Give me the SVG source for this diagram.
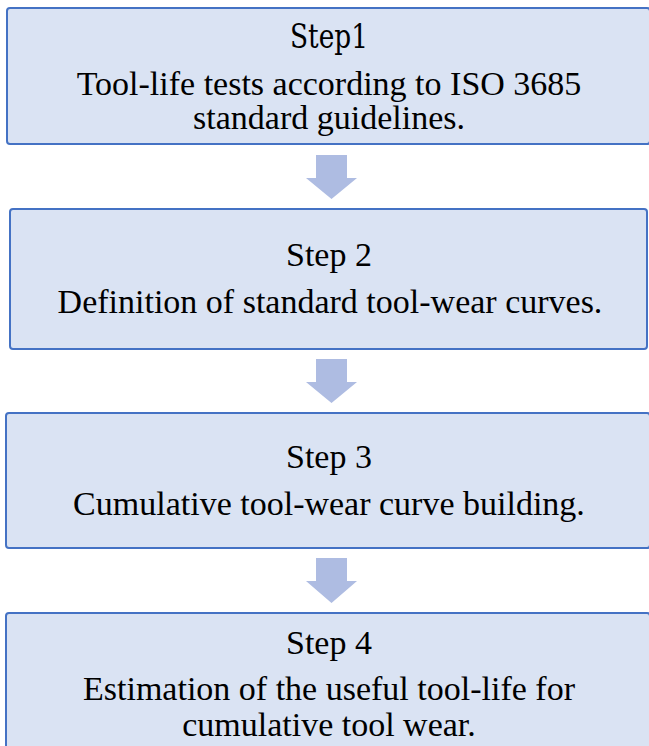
<svg xmlns="http://www.w3.org/2000/svg" width="649" height="746" viewBox="0 0 649 746">
<style>
.box{fill:#DAE3F3;stroke:#4472C4;stroke-width:2}
.t{font-size:34px;fill:#000;text-anchor:middle}
.arr{fill:#AEBCE2}
</style>
<rect width="649" height="746" fill="#fff"/>
<g id="step1">
<rect class="box" x="7" y="8" width="643" height="136" rx="3"/>
<text class="t" x="329" y="48" style="font-family:'DejaVu Serif',serif" textLength="78" lengthAdjust="spacingAndGlyphs">Step1</text>
<text class="t" x="329" y="95" style="font-family:'Liberation Serif'">Tool-life tests according to ISO 3685</text>
<text class="t" x="329" y="129" style="font-family:'Times New Roman'">standard guidelines.</text>
</g>
<g id="step2">
<rect class="box" x="10" y="209" width="637" height="140" rx="3"/>
<text class="t" x="329" y="266" style="font-family:'Times New Roman'">Step 2</text>
<text class="t" x="330" y="313" style="font-family:'Liberation Serif'">Definition of standard tool-wear curves.</text>
</g>
<g id="step3">
<rect class="box" x="6" y="413" width="644" height="135" rx="3"/>
<text class="t" x="329" y="468" style="font-family:'Liberation Serif'">Step 3</text>
<text class="t" x="329" y="515" style="font-family:'Times New Roman'">Cumulative tool-wear curve building.</text>
</g>
<g id="step4">
<rect class="box" x="6" y="613" width="644" height="145" rx="3"/>
<text class="t" x="329" y="654" style="font-family:'Times New Roman'">Step 4</text>
<text class="t" x="329" y="700" style="font-family:'Liberation Serif'">Estimation of the useful tool-life for</text>
<text class="t" x="329" y="736" style="font-family:'Times New Roman'">cumulative tool wear.</text>
</g>
<g id="connectors">
<polygon class="arr" points="316,155 347,155 347,178 357,178 331.5,199 306,178 316,178"/>
<polygon class="arr" points="316,359 347,359 347,382 357,382 331.5,403 306,382 316,382"/>
<polygon class="arr" points="316,558 347,558 347,581 357,581 331.5,603 306,581 316,581"/>
</g>
</svg>
